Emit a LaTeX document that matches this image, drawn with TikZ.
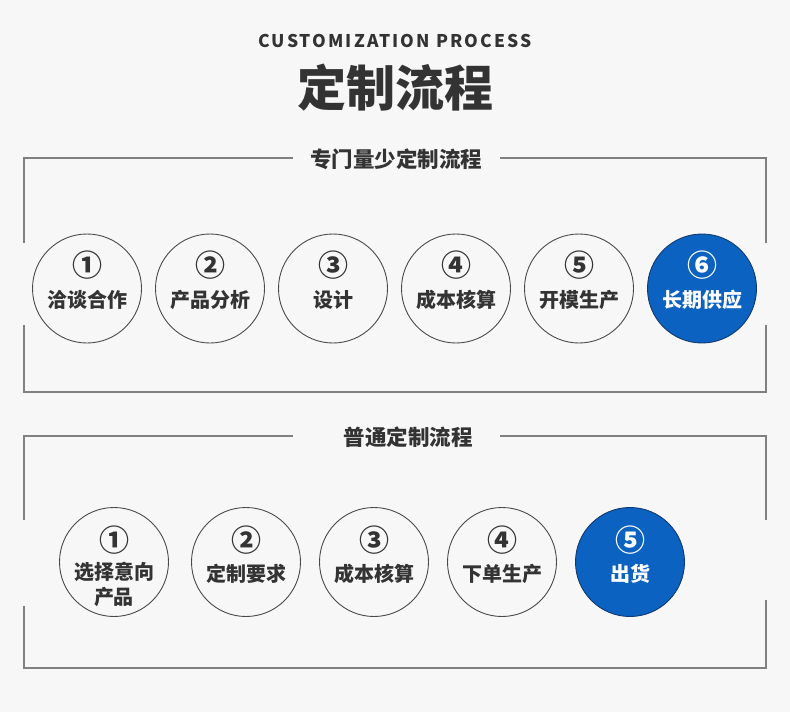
\documentclass[tikz,border=0pt]{standalone}
\usepackage{fontspec}
\newfontfamily\cjk{Noto Sans CJK SC}
\newfontfamily\entitle{Noto Sans CJK SC}[LetterSpace=12]
\definecolor{bg}{HTML}{F7F7F7}
\definecolor{txt}{HTML}{333333}
\definecolor{framegray}{HTML}{808080}
\definecolor{circgray}{HTML}{4A4A4A}
\definecolor{blueC}{HTML}{0B62C0}
\definecolor{navy}{HTML}{123A6E}
\begin{document}
\begin{tikzpicture}[x=1pt,y=-1pt,
  frame/.style={draw=framegray, line width=1.6pt},
  stepcircle/.style={circle, draw=circgray, line width=0.9pt, minimum size=109pt, inner sep=0pt, fill=bg},
  bluecircle/.style={circle, draw=navy, line width=0.9pt, minimum size=109pt, inner sep=0pt, fill=blueC},
  num/.style={font=\cjk\bfseries\fontsize{30}{30}\selectfont, text=txt, inner sep=0pt},
  lab/.style={font=\cjk\bfseries\fontsize{20}{25}\selectfont, text=txt, inner sep=0pt, align=center},
  sectitle/.style={font=\cjk\bfseries\fontsize{21.5}{24}\selectfont, text=txt, inner sep=0pt},
]
\fill[bg] (0,0) rectangle (790,712);
\useasboundingbox (0,0) rectangle (790,712);

% titles
\node[font=\entitle\bfseries\fontsize{17.5}{20}\selectfont, text=txt, inner sep=0pt] (en) at (395,41) {CUSTOMIZATION PROCESS};
\node[font=\cjk\bfseries\fontsize{49}{52}\selectfont, text=txt, inner sep=0pt] (zh) at (395,88) {定制流程};

% section 1
\node[sectitle] (sec1) at (396,159) {专门量少定制流程};
\draw[frame] (293,158) -- (24,158) -- (24,243);
\draw[frame] (24,325) -- (24,392) -- (766,392) -- (766,325);
\draw[frame] (766,243) -- (766,158) -- (500,158);

\foreach \i/\t in {1/洽谈合作,2/产品分析,3/设计,4/成本核算,5/开模生产}{
  \node[stepcircle] (a\i) at ({87+123*(\i-1)},288.5) {};
  \node[num] (an\i) at ([yshift=23.5pt]a\i.center) {\ifcase\i\or ①\or ②\or ③\or ④\or ⑤\fi};
  \node[lab] (al\i) at ([yshift=-11pt]a\i.center) {\t};
}
\node[bluecircle] (a6) at (702,288.5) {};
\node[num, text=white] (an6) at ([yshift=23.5pt]a6.center) {⑥};
\node[lab, text=white] (al6) at ([yshift=-11pt]a6.center) {长期供应};

% section 2
\node[sectitle] (sec2) at (408,437) {普通定制流程};
\draw[frame] (293,436) -- (24,436) -- (24,520);
\draw[frame] (24,606) -- (24,668) -- (766,668) -- (766,600);
\draw[frame] (766,520) -- (766,436) -- (500,436);

\node[stepcircle] (b1) at (114,562) {};
\node[num] (bn1) at ([yshift=22pt]b1.center) {①};
\node[lab] (bl1) at ([yshift=-22pt]b1.center) {选择意向\\产品};

\foreach \i/\x/\t in {2/246/定制要求,3/374/成本核算,4/502/下单生产}{
  \node[stepcircle] (b\i) at (\x,562) {};
  \node[num] (bn\i) at ([yshift=22pt]b\i.center) {\ifcase\i\or ①\or ②\or ③\or ④\fi};
  \node[lab] (bl\i) at ([yshift=-12pt]b\i.center) {\t};
}
\node[bluecircle] (b5) at (630,562) {};
\node[num, text=white] (bn5) at ([yshift=22pt]b5.center) {⑤};
\node[lab, text=white] (bl5) at ([yshift=-12pt]b5.center) {出货};
\end{tikzpicture}
\end{document}
